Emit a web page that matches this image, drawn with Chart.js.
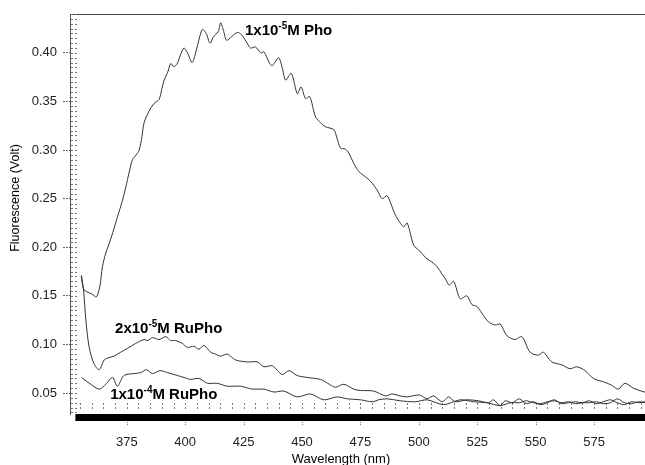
<!DOCTYPE html>
<html>
<head>
<meta charset="utf-8">
<script src="https://cdn.jsdelivr.net/npm/chart.js@4.4.1/dist/chart.umd.min.js"></script>
<style>
  html, body { margin: 0; padding: 0; background: #fff; }
  canvas { display: block; }
</style>
</head>
<body>
<canvas id="spektrum" width="645" height="465"></canvas>
<script>
// wavelengths (nm) and fluorescence (Volt)
var phoWl = [355.5, 356.5, 358, 360, 362, 363.5, 364.6, 366, 367.5, 369, 371, 373, 374.6, 376, 377.4, 379, 380.3, 381.5, 382.4, 384.5,
  386.7, 388.8, 390, 391, 392.5, 393.8, 395, 396.4, 398, 399.5, 401, 403, 405, 407.3, 409, 410.6, 412, 413, 414.2, 415.2,
  416.5, 417.7, 420, 422.3, 424, 426, 428, 430.1, 432.3, 433.7, 436.2, 437.3, 440, 441.5, 443, 445.4, 448, 449.6, 451.5, 453.3,
  455.8, 458, 460, 463.6, 465, 466.5, 468.5, 470, 472, 474.3, 477.9, 480, 482.1, 484.3, 486.4, 488, 490, 493.5, 495, 497.8,
  500, 503.5, 505.5, 507.8, 510, 511.5, 513, 514.9, 517.7, 520.6, 522.7, 524.9, 527, 529.9, 532.7, 534.8, 537.7, 541.2, 544.1, 547.6,
  551.2, 553.3, 556.9, 561.2, 564.7, 567.6, 571.2, 574.7, 579.7, 582.5, 585.4, 588.2, 591.8, 596.5, 597];
var phoVal = [0.170, 0.157, 0.154, 0.152, 0.149, 0.160, 0.180, 0.194, 0.204, 0.215, 0.231, 0.247, 0.262, 0.277, 0.290, 0.295, 0.300, 0.314, 0.328, 0.340,
  0.348, 0.352, 0.363, 0.372, 0.380, 0.389, 0.386, 0.388, 0.398, 0.405, 0.400, 0.390, 0.405, 0.424, 0.420, 0.410, 0.416, 0.419, 0.422, 0.431,
  0.422, 0.413, 0.417, 0.421, 0.419, 0.412, 0.405, 0.406, 0.400, 0.401, 0.389, 0.387, 0.395, 0.385, 0.372, 0.379, 0.358, 0.365, 0.353, 0.355,
  0.334, 0.328, 0.324, 0.321, 0.312, 0.302, 0.301, 0.297, 0.287, 0.278, 0.271, 0.266, 0.259, 0.250, 0.253, 0.245, 0.233, 0.221, 0.225, 0.202,
  0.197, 0.188, 0.185, 0.180, 0.172, 0.167, 0.161, 0.165, 0.147, 0.150, 0.141, 0.139, 0.132, 0.123, 0.120, 0.121, 0.109, 0.105, 0.108, 0.092,
  0.089, 0.092, 0.082, 0.079, 0.075, 0.077, 0.073, 0.065, 0.061, 0.058, 0.054, 0.060, 0.055, 0.051, 0.051];

var ru2Wl = [355.6, 356.5, 357.5, 358.9, 361, 363.2, 365.3, 366.8, 369.6, 372.4, 375.3, 378.8, 382.4, 384, 386, 388.8, 391.7, 393.8, 395.9, 398.8,
  400.9, 403.8, 405.9, 408, 410.9, 413, 415.2, 418, 421.6, 426.6, 430.9, 433.7, 437.3, 441.5, 444.4, 447.9, 452.2, 457.9, 461, 464.3,
  467.9, 472.1, 475, 480.7, 485.7, 488.5, 492, 495, 500.3, 503.5, 506.3, 510, 512.7, 515.6, 520.6, 525.5, 529.9, 532, 534.8, 537,
  540, 543, 546, 549, 552, 555, 558, 561, 564, 567, 570, 573, 576, 579, 582, 585, 588, 591, 594, 597];
var ru2Val = [0.171, 0.156, 0.125, 0.097, 0.080, 0.074, 0.084, 0.086, 0.088, 0.092, 0.096, 0.101, 0.105, 0.104, 0.107, 0.105, 0.108, 0.104, 0.104, 0.101,
  0.097, 0.098, 0.095, 0.099, 0.092, 0.090, 0.088, 0.090, 0.084, 0.082, 0.082, 0.077, 0.078, 0.069, 0.073, 0.068, 0.066, 0.064, 0.060, 0.056,
  0.059, 0.054, 0.0526, 0.052, 0.047, 0.049, 0.047, 0.046, 0.048, 0.044, 0.047, 0.041, 0.046, 0.041, 0.043, 0.042, 0.040, 0.043, 0.037, 0.042,
  0.040, 0.044, 0.039, 0.041, 0.038, 0.040, 0.043, 0.039, 0.040, 0.041, 0.040, 0.042, 0.039, 0.041, 0.043, 0.040, 0.038, 0.041, 0.040, 0.041];

var ru1Wl = [355.6, 359.6, 363.2, 366, 368.9, 371, 373.8, 378.1, 381, 383.5, 386, 389.2, 392.4, 396.7, 399.5, 402.4, 405.9, 409.5, 413.7, 418,
  423.7, 428.7, 433.7, 438, 442.2, 447.9, 453.6, 459.3, 465, 469.3, 475, 480, 482.8, 486.4, 492, 498.5, 503.5, 510.6, 517.7, 523.5,
  529.1, 534.8, 539.1, 543, 546, 549, 552, 555, 558, 561, 564, 567, 570, 573, 576, 579, 582, 585, 588, 591, 594, 597];
var ru1Val = [0.066, 0.059, 0.054, 0.059, 0.066, 0.057, 0.068, 0.070, 0.071, 0.074, 0.070, 0.073, 0.071, 0.068, 0.066, 0.064, 0.065, 0.060, 0.060, 0.057,
  0.057, 0.054, 0.054, 0.051, 0.052, 0.046, 0.049, 0.043, 0.046, 0.044, 0.043, 0.041, 0.043, 0.044, 0.042, 0.041, 0.043, 0.038, 0.043, 0.041,
  0.040, 0.037, 0.040, 0.040, 0.042, 0.040, 0.039, 0.041, 0.042, 0.040, 0.041, 0.039, 0.040, 0.040, 0.041, 0.039, 0.040, 0.044, 0.040, 0.039, 0.041, 0.040];

var xTicks = [375, 400, 425, 450, 475, 500, 525, 550, 575];
var yTicks = [0.05, 0.10, 0.15, 0.20, 0.25, 0.30, 0.35, 0.40];

// curve labels: [main, superscript, rest], anchored at (nm, Volt) baseline-left
var curveLabels = [['1x10', '-5', 'M Pho'], ['2x10', '-5', 'M RuPho'], ['1x10', '-4', 'M RuPho']];
var labelWl = [425.6, 370.0, 367.9];
var labelVal = [0.4185, 0.1121, 0.0435];

function pts(xs, ys) {
  return xs.map(function (x, i) { return { x: x, y: ys[i] }; });
}

var FONT = "'Liberation Sans', Arial, sans-serif";

var deko = {
  id: 'deko',
  beforeDatasetsDraw: function (chart) {
    var ctx = chart.ctx, a = chart.chartArea;
    var xs = chart.scales.x, ys = chart.scales.y;
    ctx.save();
    // top frame line
    ctx.strokeStyle = '#444';
    ctx.lineWidth = 1;
    ctx.beginPath();
    ctx.moveTo(a.left, a.top + 0.5);
    ctx.lineTo(a.right, a.top + 0.5);
    ctx.stroke();
    // inner minor ticks
    ctx.strokeStyle = '#777';
    ctx.setLineDash([2, 2]);
    ctx.beginPath();
    for (var v = 0.03; v <= 0.4401; v += 0.005) {
      var py = Math.round(ys.getPixelForValue(v)) + 0.5;
      ctx.moveTo(a.left + 1, py);
      ctx.lineTo(a.left + 8, py);
    }
    for (var w = 355; w <= 595; w += 5) {
      var px = Math.round(xs.getPixelForValue(w)) + 0.5;
      ctx.moveTo(px, a.bottom - 11);
      ctx.lineTo(px, a.bottom - 3);
    }
    ctx.stroke();
    ctx.restore();
  },
  afterDatasetsDraw: function (chart) {
    var ctx = chart.ctx, a = chart.chartArea;
    var xs = chart.scales.x, ys = chart.scales.y;
    ctx.save();
    // thick black x-axis bar
    ctx.fillStyle = '#000';
    var x0 = xs.getPixelForValue(353);
    ctx.fillRect(x0, a.bottom, a.right - x0, 7);
    // major x ticks below the bar
    ctx.strokeStyle = '#777';
    ctx.setLineDash([1, 1]);
    ctx.beginPath();
    xTicks.forEach(function (t) {
      var px = Math.round(xs.getPixelForValue(t)) + 0.5;
      ctx.moveTo(px, a.bottom + 8);
      ctx.lineTo(px, a.bottom + 12);
    });
    ctx.stroke();
    ctx.setLineDash([]);
    // curve labels
    ctx.fillStyle = '#000';
    ctx.textBaseline = 'alphabetic';
    ctx.textAlign = 'left';
    curveLabels.forEach(function (parts, i) {
      var px = xs.getPixelForValue(labelWl[i]);
      var py = ys.getPixelForValue(labelVal[i]);
      ctx.font = 'bold 15px ' + FONT;
      ctx.fillText(parts[0], px, py);
      px += ctx.measureText(parts[0]).width;
      ctx.font = 'bold 10px ' + FONT;
      ctx.fillText(parts[1], px, py - 6);
      px += ctx.measureText(parts[1]).width;
      ctx.font = 'bold 15px ' + FONT;
      ctx.fillText(parts[2], px, py);
    });
    // axis titles
    ctx.font = '13px ' + FONT;
    ctx.textAlign = 'center';
    ctx.textBaseline = 'middle';
    ctx.fillText('Wavelength (nm)', 341, 459);
    ctx.translate(16, 198);
    ctx.rotate(-Math.PI / 2);
    ctx.font = '12.5px ' + FONT;
    ctx.fillText('Fluorescence (Volt)', 0, 0);
    ctx.restore();
  }
};

var lineStyle = { borderColor: '#333', borderWidth: 1, pointRadius: 0, tension: 0.3, fill: false };

new Chart(document.getElementById('spektrum'), {
  type: 'line',
  data: {
    datasets: [
      Object.assign({ label: '1x10-5M Pho', data: pts(phoWl, phoVal) }, lineStyle),
      Object.assign({ label: '2x10-5M RuPho', data: pts(ru2Wl, ru2Val) }, lineStyle),
      Object.assign({ label: '1x10-4M RuPho', data: pts(ru1Wl, ru1Val) }, lineStyle)
    ]
  },
  options: {
    responsive: false,
    devicePixelRatio: 1,
    animation: false,
    layout: { padding: { top: 14, right: 0, bottom: 0, left: 0 } },
    plugins: { legend: { display: false }, tooltip: { enabled: false } },
    scales: {
      x: {
        type: 'linear',
        min: 350.7,
        max: 596.8,
        afterBuildTicks: function (s) { s.ticks = xTicks.map(function (v) { return { value: v }; }); },
        afterFit: function (s) { s.height = 51; },
        grid: { display: false },
        border: { display: false },
        ticks: { padding: 13, color: '#222', font: { family: FONT, size: 13 }, maxRotation: 0 }
      },
      y: {
        min: 0.0284,
        max: 0.44,
        afterBuildTicks: function (s) { s.ticks = yTicks.map(function (v) { return { value: v }; }); },
        afterFit: function (s) { s.width = 70; },
        grid: { drawOnChartArea: false, tickLength: 7, color: '#666', tickBorderDash: [2, 1] },
        border: { display: true, color: '#555', width: 1 },
        ticks: {
          padding: 6,
          color: '#222',
          font: { family: FONT, size: 13 },
          callback: function (v) { return v.toFixed(2); }
        }
      }
    }
  },
  plugins: [deko]
});
</script>
</body>
</html>
